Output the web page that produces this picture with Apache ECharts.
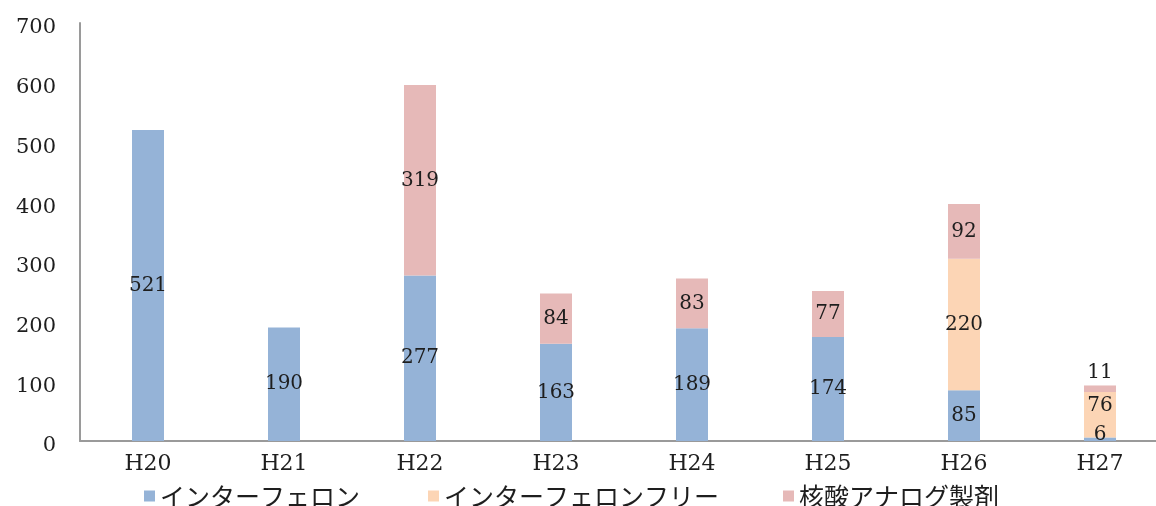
<!DOCTYPE html>
<html><head><meta charset="utf-8">
<script src="https://cdn.jsdelivr.net/npm/echarts@6/dist/echarts.min.js"></script>
<style>html,body{margin:0;padding:0;background:#fff}#c{width:1156px;height:506px}</style>
</head><body><div id="c"></div>
<script>
var categories = ['H20','H21','H22','H23','H24','H25','H26','H27'];
var seriesNames = ['インターフェロン','インターフェロンフリー','核酸アナログ製剤'];
var ifn = [521,190,277,163,189,174,85,6];
var ifnFree = [null,null,null,null,null,null,220,76];
var nucleoside = [null,null,319,84,83,77,92,11];
var yTicks = [0,100,200,300,400,500,600,700];

var colors = ['#95B3D7','#FCD5B5','#E6B9B8'];
var serif = '"DejaVu Serif", "Liberation Serif", serif';
var labelStyle = {show:true, position:'inside', color:'#1e1e1e', fontFamily:serif, fontSize:20};

function items(arr, overrides){
  return arr.map(function(v,i){
    if(v===null) return '-';
    var o = {value:v};
    if(overrides && overrides[i]) o.label = overrides[i];
    return o;
  });
}

var chart = echarts.init(document.getElementById('c'));
chart.setOption({
  animation:false,
  grid:{left:80, top:23, bottom:65, right:-12, containLabel:false, outerBoundsMode:'none'},
  legend:[
    {data:[seriesNames[0]], left:144, top:483},
    {data:[seriesNames[1]], left:428, top:483},
    {data:[seriesNames[2]], left:783, top:483}
  ].map(function(l){
    return Object.assign(l,{icon:'rect', itemWidth:11, itemHeight:11, itemGap:4, padding:0,
      textStyle:{fontFamily:'"Noto Sans CJK JP", sans-serif', fontSize:25, lineHeight:26, color:'#1e1e1e', padding:[0,0,0,0]}});
  }),
  xAxis:{type:'category', data:categories,
    axisLine:{lineStyle:{color:'#9a9a9a', width:2}},
    axisTick:{show:false},
    axisLabel:{color:'#1e1e1e', fontFamily:serif, fontSize:22, margin:12}},
  yAxis:{type:'value', min:yTicks[0], max:yTicks[yTicks.length-1], interval:100,
    axisLine:{show:true, lineStyle:{color:'#9a9a9a', width:2}},
    axisTick:{show:false},
    splitLine:{show:false},
    axisLabel:{color:'#1e1e1e', fontFamily:serif, fontSize:21, margin:24, lineHeight:28, verticalAlign:'top', padding:[-9,0,0,0]}},
  series:[
    {name:seriesNames[0], type:'bar', stack:'s', barWidth:32, itemStyle:{color:colors[0]},
     label:labelStyle, data:items(ifn,{7:{offset:[0,-4]}})},
    {name:seriesNames[1], type:'bar', stack:'s', barWidth:32, itemStyle:{color:colors[1]},
     label:labelStyle, data:items(ifnFree,{7:{offset:[0,-9]}})},
    {name:seriesNames[2], type:'bar', stack:'s', barWidth:32, itemStyle:{color:colors[2]},
     label:labelStyle, data:items(nucleoside,{7:{position:'top', distance:3}})}
  ]
});
</script></body></html>
